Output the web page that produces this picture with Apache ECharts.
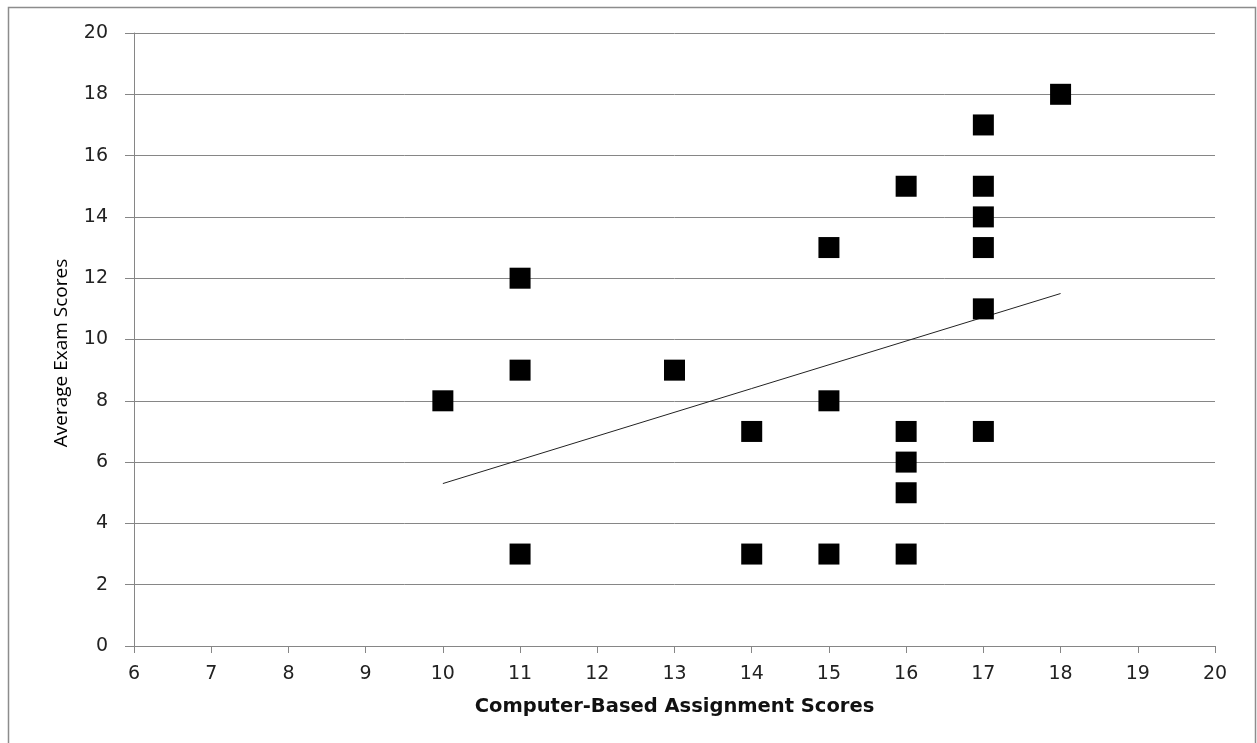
<!DOCTYPE html>
<html><head><meta charset="utf-8">
<script src="https://cdn.jsdelivr.net/npm/echarts@6/dist/echarts.min.js"></script>
<style>html,body{margin:0;padding:0;background:#fff}#c{width:1257px;height:743px}</style>
</head><body><div id="c"></div>
<script>
const assignmentScores = [10, 11, 11, 11, 13, 14, 14, 15, 15, 15, 16, 16, 16, 16, 16, 17, 17, 17, 17, 17, 17, 18];
const examScores       = [8, 12, 9, 3, 9, 7, 3, 13, 8, 3, 15, 7, 6, 5, 3, 17, 15, 14, 13, 11, 7, 18];
const trendX = [10, 18];
const trendY = [5.3, 11.5];
const xTitle = 'Computer-Based Assignment Scores';
const yTitle = 'Average Exam Scores';

const chart = echarts.init(document.getElementById('c'));
const axisGray = '#868686';
chart.setOption({
  animation: false,
  graphic: [
    {type: 'rect', shape: {x: 8.5, y: 7.5, width: 1247, height: 740}, style: {fill: 'none', stroke: '#8c8c8c', lineWidth: 1.5}, z: -1},
    {type: 'text', x: 62, y: 353, rotation: Math.PI / 2,
     style: {text: yTitle, align: 'center', verticalAlign: 'middle', font: '19px "Open Sans"', fill: '#000'}}
  ],
  grid: {left: 134, right: 42, top: 33, bottom: 97},
  xAxis: {
    type: 'value', min: 6, max: 20, interval: 1,
    name: xTitle, nameLocation: 'middle', nameGap: 51,
    nameTextStyle: {fontFamily: 'DejaVu Sans', fontWeight: 'bold', fontSize: 19.5, color: '#111'},
    axisLine: {show: true, lineStyle: {color: axisGray}},
    axisTick: {show: true, length: 7, lineStyle: {color: axisGray}},
    axisLabel: {fontFamily: 'DejaVu Sans', fontSize: 19, color: '#222', margin: 19},
    splitLine: {show: false}
  },
  yAxis: {
    type: 'value', min: 0, max: 20, interval: 2,
    axisLine: {show: true, lineStyle: {color: axisGray}},
    axisTick: {show: true, length: 9, lineStyle: {color: axisGray}},
    axisLabel: {fontFamily: 'DejaVu Sans', fontSize: 19, color: '#222', margin: 26},
    splitLine: {show: true, lineStyle: {color: axisGray, width: 1}}
  },
  series: [
    {
      type: 'scatter', symbol: 'rect', symbolSize: 21,
      itemStyle: {color: '#000', opacity: 1, borderRadius: 2},
      data: assignmentScores.map((x, i) => [x, examScores[i]]), z: 3
    },
    {
      type: 'line', symbol: 'none', silent: true,
      lineStyle: {color: '#222', width: 1},
      data: trendX.map((x, i) => [x, trendY[i]]), z: 2
    }
  ]
});
</script></body></html>
